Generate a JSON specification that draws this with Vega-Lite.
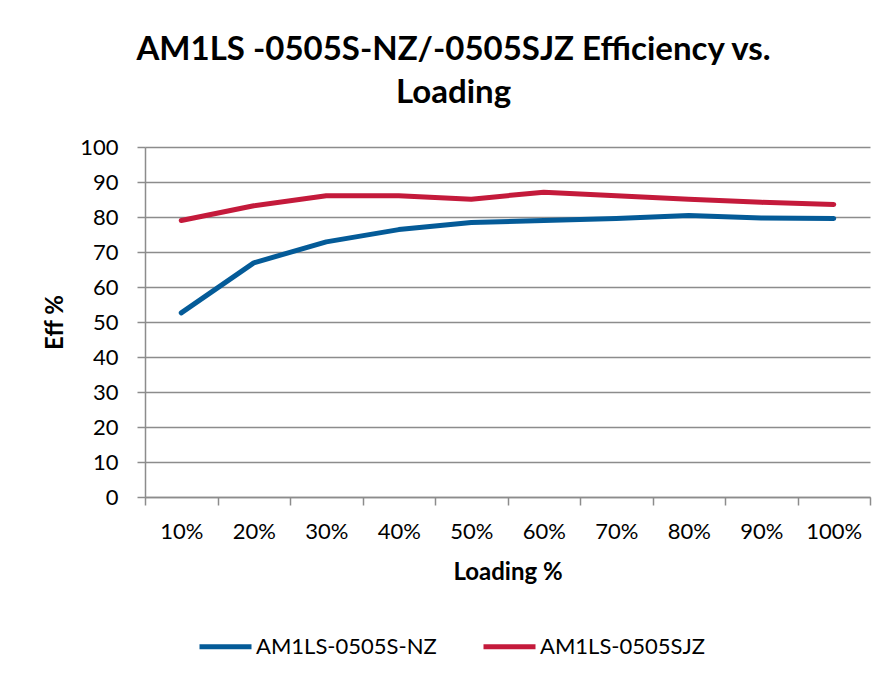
{
  "$schema": "https://vega.github.io/schema/vega-lite/v6.json",
  "autosize": "none",
  "width": 725,
  "height": 350,
  "padding": {"left": 145, "top": 147, "right": 18, "bottom": 187},
  "background": "white",
  "title": {
    "text": ["AM1LS -0505S-NZ/-0505SJZ Efficiency vs.", "Loading"],
    "font": "Lato",
    "fontSize": 33,
    "fontWeight": "bold",
    "color": "#000000",
    "anchor": "middle",
    "dx": -54,
    "offset": 26,
    "lineHeight": 43
  },
  "data": {
    "values": [
      {"load": "10%", "series": "AM1LS-0505S-NZ", "eff": 52.6},
      {"load": "20%", "series": "AM1LS-0505S-NZ", "eff": 66.9},
      {"load": "30%", "series": "AM1LS-0505S-NZ", "eff": 72.9},
      {"load": "40%", "series": "AM1LS-0505S-NZ", "eff": 76.4},
      {"load": "50%", "series": "AM1LS-0505S-NZ", "eff": 78.4},
      {"load": "60%", "series": "AM1LS-0505S-NZ", "eff": 79.0},
      {"load": "70%", "series": "AM1LS-0505S-NZ", "eff": 79.6},
      {"load": "80%", "series": "AM1LS-0505S-NZ", "eff": 80.4},
      {"load": "90%", "series": "AM1LS-0505S-NZ", "eff": 79.7},
      {"load": "100%", "series": "AM1LS-0505S-NZ", "eff": 79.6},
      {"load": "10%", "series": "AM1LS-0505SJZ", "eff": 79.0},
      {"load": "20%", "series": "AM1LS-0505SJZ", "eff": 83.2},
      {"load": "30%", "series": "AM1LS-0505SJZ", "eff": 86.1},
      {"load": "40%", "series": "AM1LS-0505SJZ", "eff": 86.1},
      {"load": "50%", "series": "AM1LS-0505SJZ", "eff": 85.1},
      {"load": "60%", "series": "AM1LS-0505SJZ", "eff": 87.1},
      {"load": "70%", "series": "AM1LS-0505SJZ", "eff": 86.1},
      {"load": "80%", "series": "AM1LS-0505SJZ", "eff": 85.1},
      {"load": "90%", "series": "AM1LS-0505SJZ", "eff": 84.2},
      {"load": "100%", "series": "AM1LS-0505SJZ", "eff": 83.6}
    ]
  },
  "mark": {"type": "line", "strokeWidth": 5, "strokeCap": "round", "strokeJoin": "round"},
  "encoding": {
    "x": {
      "field": "load",
      "type": "ordinal",
      "sort": ["10%", "20%", "30%", "40%", "50%", "60%", "70%", "80%", "90%", "100%"],
      "scale": {"type": "band", "paddingInner": 0, "paddingOuter": 0},
      "axis": {
        "title": "Loading %",
        "labelAngle": 0,
        "tickBand": "extent",
        "grid": false,
        "labelPadding": 16,
        "titlePadding": 18,
        "titleFontSize": 24
      }
    },
    "y": {
      "field": "eff",
      "type": "quantitative",
      "scale": {"domain": [0, 100], "nice": false},
      "axis": {
        "title": "Eff %",
        "values": [0, 10, 20, 30, 40, 50, 60, 70, 80, 90, 100],
        "labelPadding": 19,
        "titlePadding": 12,
        "titleFontSize": 24
      }
    },
    "color": {
      "field": "series",
      "type": "nominal",
      "scale": {"domain": ["AM1LS-0505S-NZ", "AM1LS-0505SJZ"], "range": ["#045B98", "#C41A3B"]},
      "legend": {
        "title": null,
        "orient": "none",
        "direction": "horizontal",
        "legendX": 52,
        "legendY": 471,
        "symbolType": "stroke",
        "symbolSize": 2704,
        "symbolStrokeWidth": 5,
        "labelFontSize": 22,
        "labelFont": "Lato",
        "labelColor": "#000000",
        "labelLimit": 0,
        "labelOffset": 2,
        "columnPadding": 36
      }
    }
  },
  "config": {
    "view": {"stroke": null},
    "axis": {
      "labelFont": "Lato",
      "labelFontSize": 22,
      "labelColor": "#000000",
      "titleFont": "Lato",
      "titleFontWeight": "bold",
      "titleColor": "#000000",
      "domainColor": "#8C8C8C",
      "domainWidth": 1.5,
      "tickColor": "#8C8C8C",
      "tickWidth": 1.5,
      "tickSize": 8,
      "gridColor": "#8C8C8C",
      "gridWidth": 1.5
    }
  }
}
